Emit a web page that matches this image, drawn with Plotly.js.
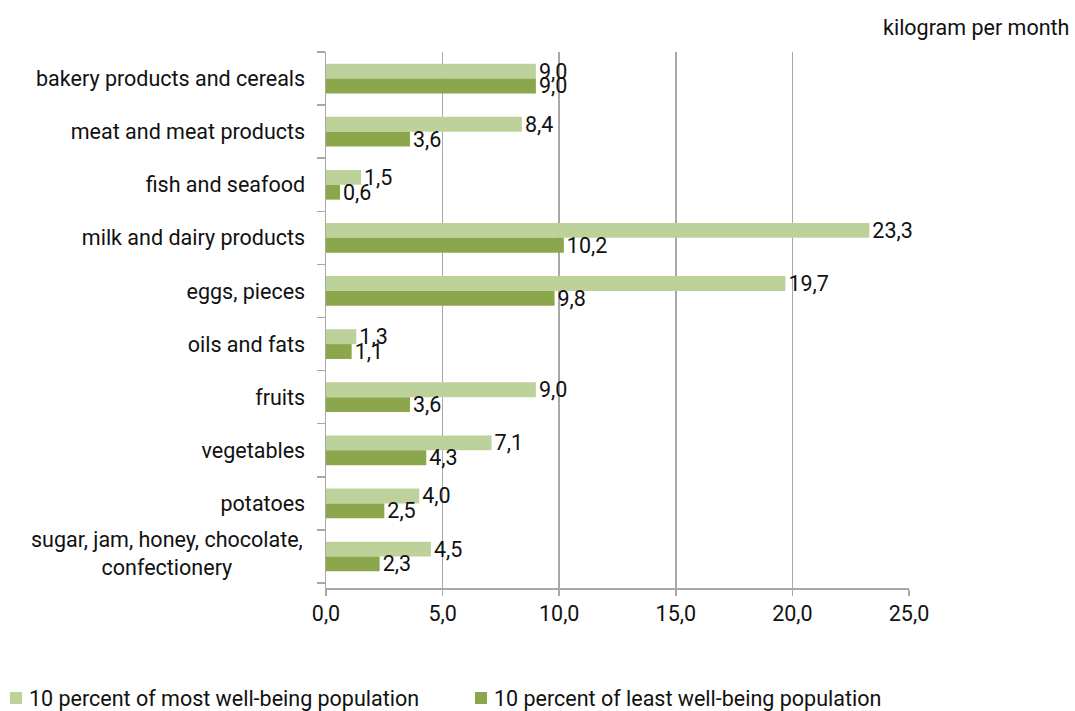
<!DOCTYPE html>
<html>
<head>
<meta charset="utf-8">
<script src="https://cdn.plot.ly/plotly-3.0.1.min.js"></script>
<style>html,body{margin:0;padding:0;background:#fff;}#chart{width:1075px;height:711px;}</style>
</head>
<body>
<div id="chart"></div>
<script>
const categories = [
  "bakery products and cereals",
  "meat and meat products",
  "fish and seafood",
  "milk and dairy products",
  "eggs, pieces",
  "oils and fats",
  "fruits",
  "vegetables",
  "potatoes",
  "sugar, jam, honey, chocolate,<br>confectionery"
];
const mostWellBeing = [9.0, 8.4, 1.5, 23.3, 19.7, 1.3, 9.0, 7.1, 4.0, 4.5];
const leastWellBeing = [9.0, 3.6, 0.6, 10.2, 9.8, 1.1, 3.6, 4.3, 2.5, 2.3];
const seriesNames = ["10 percent of most well-being population", "10 percent of least well-being population"];
const seriesColors = ["#BDD29B", "#8CA64B"];
const xTicks = [0, 5, 10, 15, 20, 25];
const unitLabel = "kilogram per month";

const W = 1075, H = 711;
const M = {l: 326, r: 166, t: 52, b: 123};
const PW = W - M.l - M.r, PH = H - M.t - M.b;
const px2x = p => (p - M.l) / PW;
const py2y = p => (H - M.b - p) / PH;

const font = {family: "Roboto, 'Open Sans', sans-serif", size: 21.5, color: "#111"};

const traces = [mostWellBeing, leastWellBeing].map((vals, i) => ({
  type: "bar", orientation: "h", name: seriesNames[i], y: categories, x: vals,
  marker: {color: seriesColors[i]}, texttemplate: "%{x:.1f}", textposition: "outside",
  textfont: font, constraintext: "none", cliponaxis: false, showlegend: false
}));

const tickText = categories.map(c => c.indexOf("<br>") >= 0 ? "" : c);
const annotations = [{
  text: unitLabel, xref: "paper", yref: "paper", x: px2x(1071), xanchor: "right",
  y: py2y(27), yanchor: "middle", showarrow: false, font: font
}];
categories.forEach(c => {
  if (c.indexOf("<br>") >= 0) {
    annotations.push({text: c, xref: "paper", yref: "y", x: 0, xanchor: "right", xshift: -21, yshift: 3, y: c,
      showarrow: false, align: "center", font: font});
  }
});

// legend drawn manually to match reference spacing
const legendX = [10, 475];
const shapes = [];
seriesNames.forEach((n, i) => {
  shapes.push({type: "rect", xref: "paper", yref: "paper",
    x0: px2x(legendX[i]), x1: px2x(legendX[i] + 12), y0: py2y(704), y1: py2y(692),
    fillcolor: seriesColors[i], line: {width: 0}});
  annotations.push({text: n, xref: "paper", yref: "paper", x: px2x(legendX[i] + 17), xanchor: "left",
    y: py2y(698), yanchor: "middle", showarrow: false, font: font});
});

const layout = {
  width: W, height: H,
  margin: M,
  paper_bgcolor: "#fff", plot_bgcolor: "#fff",
  font: font,
  separators: ", ",
  barmode: "group",
  bargap: 0.44,
  bargroupgap: 0,
  showlegend: false,
  xaxis: {range: [0, 25], tickvals: xTicks, tickformat: ".1f", showgrid: true, gridcolor: "#A8A8A8", gridwidth: 1.5,
    showline: true, linecolor: "#A8A8A8", linewidth: 1.5, ticks: "outside", ticklen: 6, tickcolor: "#A8A8A8",
    tickwidth: 1.5, zeroline: false, tickfont: font, fixedrange: true},
  yaxis: {type: "category", autorange: "reversed", tickvals: categories, ticktext: tickText, showline: true,
    linecolor: "#A8A8A8", linewidth: 1.5, ticks: "outside", ticklen: 8, tickcolor: "#A8A8A8", tickwidth: 1.5,
    tickson: "boundaries", ticklabelstandoff: 15, showgrid: false, tickfont: font, fixedrange: true},
  shapes: shapes,
  annotations: annotations
};

Plotly.newPlot("chart", traces, layout, {displayModeBar: false, staticPlot: true});
</script>
</body>
</html>
